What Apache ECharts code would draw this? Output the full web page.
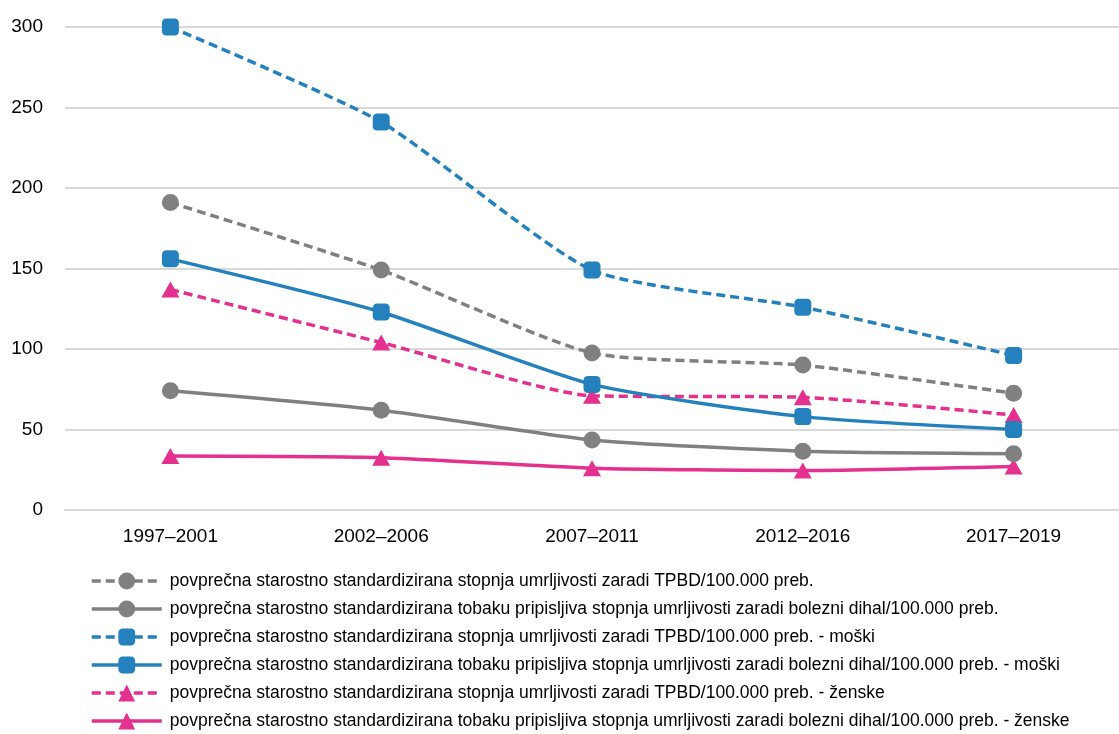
<!DOCTYPE html>
<html>
<head>
<meta charset="utf-8">
<script src="https://cdn.jsdelivr.net/npm/echarts@6/dist/echarts.min.js"></script>
<style>html,body{margin:0;padding:0;background:#fff;}#c{width:1119px;height:734px;}</style>
</head>
<body>
<div id="c"></div>
<script>
const categories = ['1997–2001', '2002–2006', '2007–2011', '2012–2016', '2017–2019'];
const yTicks = [0, 50, 100, 150, 200, 250, 300];

const seriesNames = [
  'povprečna starostno standardizirana stopnja umrljivosti zaradi TPBD/100.000 preb.',
  'povprečna starostno standardizirana tobaku pripisljiva stopnja umrljivosti zaradi bolezni dihal/100.000 preb.',
  'povprečna starostno standardizirana stopnja umrljivosti zaradi TPBD/100.000 preb. - moški',
  'povprečna starostno standardizirana tobaku pripisljiva stopnja umrljivosti zaradi bolezni dihal/100.000 preb. - moški',
  'povprečna starostno standardizirana stopnja umrljivosti zaradi TPBD/100.000 preb. - ženske',
  'povprečna starostno standardizirana tobaku pripisljiva stopnja umrljivosti zaradi bolezni dihal/100.000 preb. - ženske'
];

const totalTPBD = [191, 149, 97.5, 90, 72.5];
const totalTobacco = [74, 62, 43.5, 36.5, 35];
const maleTPBD = [300, 241, 149, 126, 96];
const maleTobacco = [156, 123, 78, 58, 50];
const femaleTPBD = [137, 104, 71, 70, 59];
const femaleTobacco = [33.5, 32.5, 26, 24.5, 27];

const seriesData = [totalTPBD, totalTobacco, maleTPBD, maleTobacco, femaleTPBD, femaleTobacco];
const colors = ['#808080', '#808080', '#2581be', '#2581be', '#e4308e', '#e4308e'];
const dashed = [true, false, true, false, true, false];
const symbols = ['circle', 'circle', 'roundRect', 'roundRect', 'triangle', 'triangle'];

const FONT = "'Liberation Sans', Arial, sans-serif";

const chart = echarts.init(document.getElementById('c'), null, {renderer: 'canvas'});

const lineStyleFor = i => ({color: colors[i], width: 3.5, type: dashed[i] ? [9, 5] : 'solid', cap: 'butt'});

const series = seriesData.map((d, i) => ({
  name: seriesNames[i],
  type: 'line',
  data: d,
  smooth: 0.2,
  symbol: symbols[i],
  symbolSize: symbols[i] === 'triangle' ? [18, 16] : 17,
  showAllSymbol: true,
  itemStyle: {color: colors[i]},
  lineStyle: lineStyleFor(i),
  emphasis: {disabled: true},
  z: 10 - i
}));

chart.setOption({
  animation: false,
  backgroundColor: '#ffffff',
  textStyle: {fontFamily: FONT},
  grid: {left: 65, right: -11, top: 27, bottom: 224, containLabel: false},
  xAxis: {
    type: 'category',
    data: categories,
    boundaryGap: true,
    axisLine: {show: true, lineStyle: {color: '#d9d9d9', width: 2}},
    axisTick: {show: false},
    axisLabel: {color: '#000', fontSize: 19, fontFamily: FONT, margin: 17}
  },
  yAxis: {
    type: 'value',
    min: yTicks[0],
    max: yTicks[yTicks.length - 1],
    interval: 50,
    axisLine: {show: false},
    axisTick: {show: false},
    splitLine: {lineStyle: {color: '#d9d9d9', width: 2}},
    axisLabel: {color: '#000', fontSize: 19, fontFamily: FONT, margin: 22}
  },
  legend: {
    orient: 'vertical',
    left: 85,
    top: 567,
    height: 220,
    itemWidth: 70,
    itemHeight: 21,
    itemGap: 10,
    textStyle: {color: '#000', fontSize: 17.5, fontFamily: FONT, padding: [0, 0, 0, 3]},
    data: seriesNames.map((n, i) => ({name: n, lineStyle: lineStyleFor(i), itemStyle: {color: colors[i]}}))
  },
  series: series
});
</script>
</body>
</html>
